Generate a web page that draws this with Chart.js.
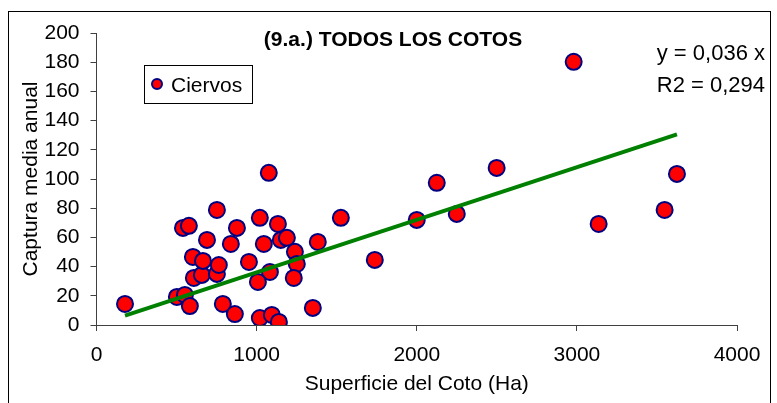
<!DOCTYPE html>
<html>
<head>
<meta charset="utf-8">
<script src="https://cdn.jsdelivr.net/npm/chart.js@4"></script>
<style>
  body { margin: 0; background: #fff; }
</style>
</head>
<body>
<canvas id="chart" width="777" height="403"></canvas>
<script>
// data
const superficie = [178, 502, 552, 583, 608, 658, 602, 665, 752, 764, 690, 540, 577, 752, 877,
  839, 789, 864, 952, 1020, 1045, 1083, 1008, 1020, 1095, 1139, 1133, 1151, 1189, 1076,
  1239, 1251, 1232, 1351, 1382, 1526, 1738, 2000, 2250, 2125, 2499, 3136, 3548, 3625, 2980];
const captura = [14.4, 19.2, 20.6, 13.0, 32.2, 34.3, 46.6, 43.9, 35.0, 41.1, 58.3, 66.5, 67.9, 78.8, 66.5,
  55.5, 14.4, 7.5, 43.2, 73.4, 55.5, 36.3, 29.5, 4.8, 6.9, 2.1, 69.2, 58.3, 59.7, 104.2,
  50.1, 41.8, 32.2, 11.7, 56.9, 73.4, 44.6, 72.0, 76.1, 97.4, 107.6, 69.2, 78.8, 103.5, 180.3];
const pendiente = 0.036;
const r2 = '0,294';
const xTicks = [0, 1000, 2000, 3000, 4000];
const yTicks = [0, 20, 40, 60, 80, 100, 120, 140, 160, 180, 200];

const FONT = "'Liberation Sans', Arial, sans-serif";

const puntos = superficie.map((x, i) => ({ x: x, y: captura[i] }));
const xMin = Math.min(...superficie);
const xMax = Math.max(...superficie);
const tendencia = [
  { x: xMin, y: pendiente * xMin },
  { x: xMax, y: pendiente * xMax }
];

const decor = {
  id: 'decor',
  afterDraw(chart) {
    const ctx = chart.ctx;
    ctx.save();
    // outer frame
    ctx.strokeStyle = '#000';
    ctx.lineWidth = 1;
    ctx.strokeRect(8.5, 11.5, 762, 400);

    // title
    ctx.fillStyle = '#000';
    ctx.font = 'bold 21px ' + FONT;
    ctx.textAlign = 'center';
    ctx.textBaseline = 'alphabetic';
    ctx.fillText('(9.a.) TODOS LOS COTOS', 393, 46);

    // equation
    ctx.font = '22px ' + FONT;
    ctx.textAlign = 'right';
    ctx.fillText('y = ' + String(pendiente).replace('.', ',') + ' x', 765, 60);
    ctx.fillText('R2 = ' + r2, 765, 92);

    // legend
    const ds = chart.data.datasets[1];
    ctx.fillStyle = '#fff';
    ctx.fillRect(144.5, 65.5, 108, 38);
    ctx.strokeStyle = '#000';
    ctx.strokeRect(144.5, 65.5, 108, 38);
    ctx.beginPath();
    ctx.arc(157, 84, 5, 0, Math.PI * 2);
    ctx.fillStyle = ds.backgroundColor;
    ctx.fill();
    ctx.lineWidth = 2;
    ctx.strokeStyle = ds.borderColor;
    ctx.stroke();
    ctx.fillStyle = '#000';
    ctx.font = '21px ' + FONT;
    ctx.textAlign = 'left';
    ctx.fillText(ds.label, 171, 92);
    ctx.restore();
  }
};

new Chart(document.getElementById('chart'), {
  type: 'scatter',
  data: {
    datasets: [
      {
        type: 'line',
        label: 'Tendencia',
        data: tendencia,
        borderColor: '#008000',
        borderWidth: 4,
        pointRadius: 0,
        fill: false,
        order: 0
      },
      {
        label: 'Ciervos',
        data: puntos,
        backgroundColor: '#ff0000',
        borderColor: '#000080',
        borderWidth: 2,
        pointRadius: 8,
        order: 1
      }
    ]
  },
  options: {
    responsive: false,
    animation: false,
    layout: { padding: { left: 19, top: 33, right: 40, bottom: 6 } },
    plugins: {
      legend: { display: false },
      tooltip: { enabled: false }
    },
    scales: {
      x: {
        type: 'linear',
        min: 0,
        max: 4000,
        afterBuildTicks: (s) => { s.ticks = xTicks.map(v => ({ value: v })); },
        afterFit: (s) => { s.height = 72; },
        border: { color: '#404040', width: 1 },
        grid: { drawOnChartArea: false, tickLength: 6, color: '#404040' },
        ticks: { color: '#000', font: { family: FONT, size: 21 }, padding: 12, maxRotation: 0,
          callback: (v) => String(v) },
        title: { display: true, text: 'Superficie del Coto (Ha)', color: '#000',
          font: { family: FONT, size: 21 }, padding: 0 }
      },
      y: {
        min: 0,
        max: 200,
        afterBuildTicks: (s) => { s.ticks = yTicks.map(v => ({ value: v })); },
        afterFit: (s) => { s.width = 77.5; },
        border: { color: '#404040', width: 1 },
        grid: { drawOnChartArea: false, tickLength: 6, color: '#404040' },
        ticks: { color: '#000', font: { family: FONT, size: 21 }, padding: 11,
          callback: (v) => String(v) },
        title: { display: true, text: 'Captura media anual', color: '#000',
          font: { family: FONT, size: 21 }, padding: 0 }
      }
    }
  },
  plugins: [decor]
});
</script>
</body>
</html>
